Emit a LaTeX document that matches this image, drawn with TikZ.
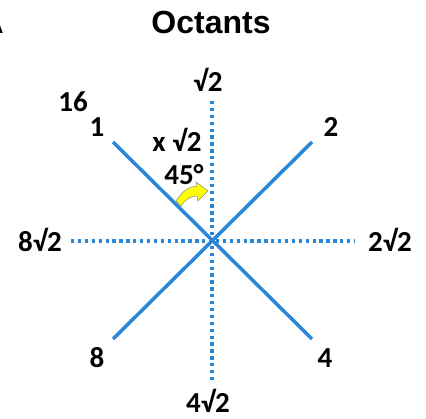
\documentclass[tikz,border=0pt]{standalone}
\usepackage{fontspec}
\setmainfont{Carlito}
\newfontfamily\titlefont{Liberation Sans}
\usepackage{xcolor}
\usepackage{tikz}
\definecolor{octblue}{HTML}{2A86D6}
\definecolor{arrowyellow}{HTML}{FFFF00}
\definecolor{arrowgray}{HTML}{8C8C8C}

\begin{document}
\begin{tikzpicture}[x=1pt, y=-1pt,
  lbl/.style={anchor=base, inner sep=0pt, font=\fontsize{29}{29}\selectfont\bfseries},
  diag/.style={octblue, line width=3.5pt},
  dotline/.style={octblue, line width=3.4pt, dash pattern=on 3.3pt off 3.6pt}]
  \useasboundingbox (0,0) rectangle (426,419);
  % title
  \node[anchor=base east, inner sep=0pt, font=\titlefont\fontsize{32}{32}\selectfont\bfseries] (corner) at (4,34) {A};
  \node[anchor=base, inner sep=0pt, font=\titlefont\fontsize{32}{32}\selectfont\bfseries] (title) at (211,34) {Octants};
  % axes
  \coordinate (c) at (212,240);
  \coordinate (top) at (212,101);
  \coordinate (bot) at (212,382);
  \coordinate (lft) at (71,241);
  \coordinate (rgt) at (355,241);
  \draw[dotline] (top) -- (bot);
  \draw[dotline] (lft) -- (rgt);
  % diagonals
  \coordinate (d1) at (113,142);
  \coordinate (d2) at (312,142);
  \coordinate (d4) at (312,339);
  \coordinate (d8) at (113,339);
  \draw[diag] (d1) -- (d4);
  \draw[diag] (d2) -- (d8);
  % turn arrow
  \fill[arrowyellow, draw=arrowgray, line width=0.5pt]
    (176,201) .. controls (183,190) and (189,187) .. (197,186)
    -- (196,182) -- (208,191) -- (198,201) -- (197,196)
    .. controls (190,196) and (185,200) .. (181,206) -- cycle;
  % labels
  \node[lbl] (n0) at (208,92) {√2};
  \node[lbl] (n16) at (73,112) {16};
  \node[lbl] (n1) at (97,137) {1};
  \node[lbl] (n2) at (331,137) {2};
  \node[lbl] (nx) at (177,152) {x √2};
  \node[lbl] (ang) at (184,185) {45°};
  \node[lbl] (n8r) at (40,252) {8√2};
  \node[lbl] (n2r) at (390,252) {2√2};
  \node[lbl] (n8) at (97,368) {8};
  \node[lbl] (n4) at (325,368) {4};
  \node[lbl] (n4r) at (208,413) {4√2};
\end{tikzpicture}
\end{document}
